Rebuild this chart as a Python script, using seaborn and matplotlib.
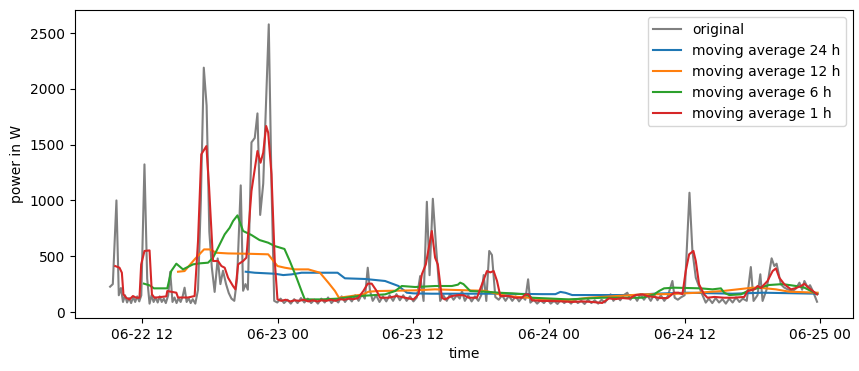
import pandas as pd
import seaborn as sns
import matplotlib.pyplot as plt
import matplotlib.dates as mdates

# hours after 06-22 00:00 and power readings (W)
orig_hours = [9.16, 9.40, 9.72, 9.93, 10.12, 10.30, 10.48, 10.66, 10.84, 11.02, 11.20, 11.38, 11.56, 11.74, 11.92,
              12.20, 12.44, 12.65, 12.83, 13.01, 13.19, 13.37, 13.55, 13.73, 13.91, 14.09, 14.30, 14.48, 14.68, 14.86,
              15.04, 15.22, 15.40, 15.58, 15.75, 15.93, 16.11, 16.29, 16.47, 16.70,
              16.94, 17.19, 17.45, 17.70, 17.94, 18.16, 18.41, 18.68, 18.92, 19.15, 19.42, 19.66, 19.90, 20.15, 20.40,
              20.72, 20.93, 21.14, 21.35, 21.67, 21.96, 22.20, 22.44, 22.71, 23.20, 23.44, 23.68,
              23.95, 24.25, 24.55, 24.85, 25.15, 25.45, 25.75, 26.05, 26.35, 26.65, 26.95, 27.25, 27.55, 27.85, 28.15,
              28.45, 28.75, 29.05, 29.35, 29.65, 29.95, 30.25, 30.55, 30.85, 31.15, 31.45, 31.70, 31.96, 32.16, 32.40,
              32.70, 33.00, 33.30, 33.60, 33.90, 34.20, 34.50, 34.80, 35.10, 35.40, 35.70, 36.00, 36.30, 36.60, 36.90,
              37.19, 37.43, 37.72, 38.01, 38.37,
              38.65, 38.95, 39.25, 39.55, 39.85, 40.10, 40.30, 40.55, 40.85, 41.15, 41.45, 41.75, 42.00, 42.22, 42.45,
              42.71, 42.95, 43.25, 43.55, 43.85, 44.15, 44.45, 44.75, 45.05, 45.35, 45.65, 45.90, 46.15, 46.35, 46.65,
              46.95, 47.25, 47.55, 47.85, 48.15, 48.45, 48.75, 49.05, 49.35, 49.65, 49.95, 50.25, 50.55, 50.85, 51.15,
              51.45, 51.75, 52.05, 52.35, 52.65, 52.95, 53.25, 53.45, 53.70, 54.00, 54.30, 54.60, 54.93, 55.20, 55.50,
              55.80, 56.10, 56.40, 56.70, 57.00, 57.30, 57.60, 57.90, 58.20, 58.50, 58.92, 59.12, 59.40, 59.66, 60.00,
              60.43, 60.69, 60.99, 61.43, 61.87, 62.15, 62.45, 62.75, 63.05, 63.35, 63.65, 63.95, 64.25, 64.55, 64.85,
              65.15, 65.50, 65.86, 66.10, 66.45, 66.70, 66.90, 67.25, 67.70, 67.94, 68.14, 68.52, 68.80, 69.12, 69.56,
              69.85, 70.16, 70.40, 70.60, 70.89, 71.10, 71.34, 71.72]
orig_power = [227, 250, 1000, 150, 215, 90, 150, 85, 125, 80, 135, 90, 140, 95, 150,
              1323, 300, 75, 150, 90, 130, 85, 140, 90, 120, 80, 150, 360, 90, 130,
              80, 125, 90, 140, 218, 90, 125, 80, 115, 75,
              200, 1000, 2190, 1850, 720, 400, 180, 480, 250, 370, 250, 170, 120, 100, 300,
              1135, 190, 250, 200, 1520, 1560, 1780, 870, 1150, 2578, 1150, 100,
              85, 120, 80, 110, 75, 115, 80, 125, 85, 120, 80, 110, 75, 120, 85,
              130, 80, 115, 85, 140, 90, 130, 95, 150, 100, 160, 120, 397, 190, 100,
              150, 90, 140, 95, 150, 100, 160, 105, 150, 100, 140, 95, 130, 322, 99,
              988, 330, 1015, 576, 99,
              150, 100, 160, 110, 150, 120, 188, 100, 150, 95, 140, 100, 150, 331, 99,
              547, 511, 134, 110, 150, 100, 145, 100, 140, 95, 135, 110, 293, 84, 110,
              75, 105, 80, 115, 75, 100, 72, 110, 80, 105, 75, 110, 80, 100, 72,
              110, 80, 105, 75, 110, 85, 130, 158, 100, 145, 105, 150, 173, 110, 150,
              100, 160, 110, 150, 100, 155, 105, 150, 100, 140, 278, 128, 110, 130, 150,
              1069, 547, 307, 188, 84, 120, 80, 125, 85, 115, 75, 120, 85, 130, 90,
              120, 100, 403, 99, 150, 338, 99, 200, 481, 412, 433, 248, 220, 203, 188,
              210, 263, 200, 278, 220, 240, 190, 92]

ma24_hours = [21.16, 21.96, 23.73, 24.48, 25.21, 26.10, 29.29, 29.94, 31.72, 33.49, 34.68, 35.42, 36.01, 37.63,
              43.84, 47.39, 48.57, 49.01, 49.46, 50.05, 55.67, 57.30, 60.25, 64.24, 66.90, 71.77]
ma24_power = [361, 352, 343, 331, 337, 352, 352, 302, 296, 278, 233, 173, 167, 164,
              164, 160, 160, 180, 172, 152, 152, 164, 173, 164, 173, 164]

ma12_hours = [15.17, 15.75, 16.64, 17.47, 17.97, 18.56, 19.60, 21.37, 23.15, 23.97, 24.62, 25.51, 26.70, 27.73,
              28.47, 29.06, 29.41, 29.94, 31.57, 32.02, 32.90, 36.15, 37.90, 40.89, 42.36, 43.84, 45.02, 46.21,
              47.39, 48.57, 50.05, 51.53, 54.49, 56.26, 58.77, 61.14, 63.36, 66.02, 66.90, 68.08, 69.26, 71.77]
ma12_power = [361, 367, 472, 561, 561, 531, 525, 522, 517, 412, 397, 382, 382, 352,
              263, 188, 128, 135, 158, 182, 188, 194, 203, 194, 190, 152, 137, 128,
              113, 107, 110, 128, 146, 158, 161, 173, 188, 218, 215, 203, 182, 173]

ma6_hours = [12.15, 12.65, 13.04, 14.22, 14.57, 15.02, 15.61, 16.50, 17.08, 17.83, 18.27, 18.71, 19.30, 19.74,
             20.04, 20.43, 20.93, 21.67, 22.38, 23.15, 23.73, 24.59, 25.06, 25.66, 26.10, 26.39, 27.88, 29.36,
             31.13, 32.31, 33.49, 34.38, 34.97, 36.15, 37.93, 39.41, 39.94, 40.14, 40.43, 41.03, 42.36, 43.55,
             44.73, 45.91, 46.50, 49.75, 52.71, 56.26, 57.30, 57.74, 58.18, 59.07, 61.43, 62.47, 63.21, 63.50,
             63.95, 64.98, 65.57, 66.61, 67.49, 68.67, 69.86, 70.60, 71.49, 71.72]
ma6_power = [254, 239, 212, 212, 367, 433, 382, 427, 436, 442, 487, 576, 696, 755,
             815, 866, 726, 690, 645, 621, 591, 565, 457, 307, 188, 113, 113, 120,
             143, 150, 158, 188, 233, 224, 233, 233, 245, 263, 250, 188, 182, 173,
             167, 158, 128, 113, 128, 128, 158, 188, 212, 218, 212, 203, 212, 173,
             152, 158, 188, 218, 242, 250, 233, 218, 173, 160]

ma1_hours = [9.61, 9.99, 10.20, 10.34, 10.58, 10.87, 11.18, 11.47, 11.76, 11.91, 12.20, 12.65, 12.86, 13.09,
             13.69, 14.13, 14.22, 15.02, 15.17, 16.05, 16.64, 16.94, 17.23, 17.68, 17.92, 18.27, 18.71, 19.01,
             19.30, 19.60, 20.04, 20.25, 20.49, 20.93, 21.22, 21.67, 21.96, 22.20, 22.47, 22.71, 22.97, 23.15,
             23.44, 23.73, 23.97, 24.30, 24.70, 25.10, 25.50, 25.90, 26.30, 26.70, 27.10, 27.50, 27.90, 28.30,
             28.70, 29.10, 29.50, 29.90, 30.30, 30.70, 31.10, 31.57, 31.96, 32.31, 32.75, 33.05, 33.79, 34.53,
             35.26, 36.01, 36.45, 36.75, 37.10, 37.63, 37.92, 38.16, 38.52, 38.78, 39.41, 40.00, 40.47, 40.89,
             41.62, 42.07, 42.51, 42.80, 43.10, 43.40, 43.69, 44.43, 45.02, 45.61, 45.91, 46.21, 46.50, 47.39,
             48.27, 49.16, 50.05, 50.94, 51.82, 52.71, 53.31, 53.87, 54.49, 55.08, 55.67, 56.26, 56.79, 57.30,
             57.86, 58.48, 59.07, 59.45, 59.81, 60.10, 60.40, 60.78, 60.99, 61.28, 61.73, 62.02, 62.64, 63.50,
             64.33, 65.28, 65.57, 66.16, 66.46, 66.75, 67.34, 67.79, 68.08, 68.38, 68.83, 69.41, 69.86, 70.30,
             70.60, 70.89, 71.34, 71.72]
ma1_power = [412, 397, 352, 158, 128, 113, 143, 128, 128, 427, 547, 552, 158, 128,
             135, 140, 188, 173, 130, 130, 143, 636, 1413, 1487, 1114, 457, 457, 412,
             397, 307, 232, 203, 427, 457, 487, 1084, 1278, 1443, 1338, 1428, 1667, 1607,
             1236, 457, 113, 100, 110, 95, 105, 100, 110, 95, 105, 95, 105, 100,
             110, 100, 115, 110, 120, 115, 125, 188, 254, 254, 188, 128, 128, 143,
             128, 113, 158, 338, 427, 726, 487, 427, 128, 113, 143, 152, 150, 128,
             128, 248, 367, 355, 367, 278, 143, 143, 128, 128, 158, 158, 105, 99,
             99, 95, 90, 95, 90, 81, 122, 115, 125, 120, 152, 158, 140, 135,
             125, 125, 173, 173, 160, 367, 517, 547, 457, 248, 158, 128, 135, 128,
             128, 135, 188, 203, 233, 215, 278, 367, 391, 307, 248, 203, 215, 233,
             253, 225, 188, 158]

start = pd.Timestamp("2023-06-22")


def to_frame(hours, power):
    return pd.DataFrame({"time": start + pd.to_timedelta(hours, unit="h"), "power": power})


fig = plt.figure(figsize=(8.59, 3.71), dpi=100)
ax = fig.add_subplot(111)
fig.subplots_adjust(left=0.087, right=0.993, top=0.972, bottom=0.143)

sns.lineplot(data=to_frame(orig_hours, orig_power), x="time", y="power", color="gray", label="original", ax=ax)
sns.lineplot(data=to_frame(ma24_hours, ma24_power), x="time", y="power", color="C0", label="moving average 24 h", ax=ax)
sns.lineplot(data=to_frame(ma12_hours, ma12_power), x="time", y="power", color="C1", label="moving average 12 h", ax=ax)
sns.lineplot(data=to_frame(ma6_hours, ma6_power), x="time", y="power", color="C2", label="moving average 6 h", ax=ax)
sns.lineplot(data=to_frame(ma1_hours, ma1_power), x="time", y="power", color="C3", label="moving average 1 h", ax=ax)

ax.xaxis.set_major_locator(mdates.HourLocator(byhour=[0, 12]))
ax.xaxis.set_major_formatter(mdates.DateFormatter("%m-%d %H"))
ax.set_xlabel("time")
ax.set_ylabel("power in W")
ax.legend(loc="upper right")

plt.savefig("out.png", dpi=100)
